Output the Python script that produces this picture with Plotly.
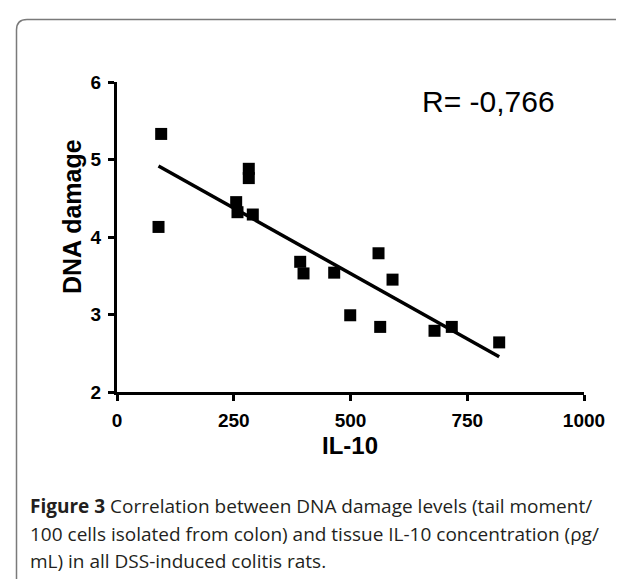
import numpy as np
import plotly.graph_objects as go

# ---- data ----
il10 = [94.6, 88.9, 282.2, 282.2, 255.2, 258.0, 290.8, 392.3, 399.4, 465.1,
        560.0, 590.0, 499.4, 563.6, 679.9, 716.9, 818.4]
dna_damage = [5.33, 4.13, 4.88, 4.76, 4.45, 4.32, 4.29, 3.68, 3.53, 3.54,
              3.79, 3.45, 2.99, 2.84, 2.79, 2.84, 2.64]
x_ticks = [0, 250, 500, 750, 1000]
y_ticks = [2, 3, 4, 5, 6]
r_label = "R= -0,766"
caption_lines = [
    "<b>Figure 3</b> Correlation between DNA damage levels (tail moment/",
    "100 cells isolated from colon) and tissue IL-10 concentration (ρg/",
    "mL) in all DSS-induced colitis rats.",
]

# linear regression from the data
slope, intercept = np.polyfit(il10, dna_damage, 1)
fit_x = [min(il10), max(il10)]
fit_y = [slope * v + intercept for v in fit_x]

# ---- layout geometry (pixels) ----
W, H = 624, 579
L, R, T, B = 109, 48, 74, 195
pw, ph = W - L - R, H - T - B


def px(x):
    return (x - L) / pw


def py(y):
    return (H - B - y) / ph


AX_FONT = "Liberation Sans, Arial, sans-serif"

fig = go.Figure()
fig.add_trace(go.Scatter(
    x=fit_x, y=fit_y, mode="lines",
    line=dict(color="black", width=3.5), hoverinfo="skip", showlegend=False,
))
fig.add_trace(go.Scatter(
    x=il10, y=dna_damage, mode="markers",
    marker=dict(symbol="square", size=12, color="black"),
    showlegend=False,
))

axis_common = dict(
    showgrid=False, zeroline=False, showline=True, linecolor="black",
    linewidth=3, ticks="outside", ticklen=6, tickwidth=3, tickcolor="black",
    tickfont=dict(family=AX_FONT, size=19, color="black", weight="bold"),
)

fig.update_xaxes(range=[0, 1000], tickvals=x_ticks, ticklabelstandoff=3,
                 **axis_common)
fig.update_yaxes(range=[2, 6], tickvals=y_ticks, ticklabelstandoff=3,
                 **axis_common)

annotations = [
    dict(text=r_label, x=px(480), y=py(93), xref="paper", yref="paper",
         showarrow=False, xanchor="center", yanchor="middle",
         font=dict(family=AX_FONT, size=30, color="black")),
    dict(text="DNA damage", x=px(64), y=py(209), xref="paper", yref="paper",
         showarrow=False, textangle=-90, xanchor="center", yanchor="middle",
         font=dict(family=AX_FONT, size=25, color="black", weight="bold")),
    dict(text="IL-10", x=px(342), y=py(437), xref="paper", yref="paper",
         showarrow=False, xanchor="center", yanchor="middle",
         font=dict(family=AX_FONT, size=24, color="black", weight="bold")),
]
for i, line in enumerate(caption_lines):
    annotations.append(dict(
        text=line, x=px(20), y=py(498 + 27.5 * i), xref="paper", yref="paper",
        showarrow=False, xanchor="left", yanchor="middle",
        font=dict(family="Open Sans, Noto Sans, sans-serif", size=19,
                  color="#231f20"),
    ))

# open frame with rounded top-left corner (continues past right and bottom)
frame_path = (
    f"M {px(8.5)},{py(600)} L {px(8.5)},{py(22)} "
    f"Q {px(8.5)},{py(11.5)} {px(19)},{py(11.5)} L {px(650)},{py(11.5)}"
)

fig.update_layout(
    width=W, height=H,
    margin=dict(l=L, r=R, t=T, b=B, pad=0),
    paper_bgcolor="white", plot_bgcolor="white",
    annotations=annotations,
    shapes=[dict(type="path", path=frame_path, xref="paper", yref="paper",
                 line=dict(color="#7a7a7a", width=1.5))],
)

fig.write_html("out.html")
